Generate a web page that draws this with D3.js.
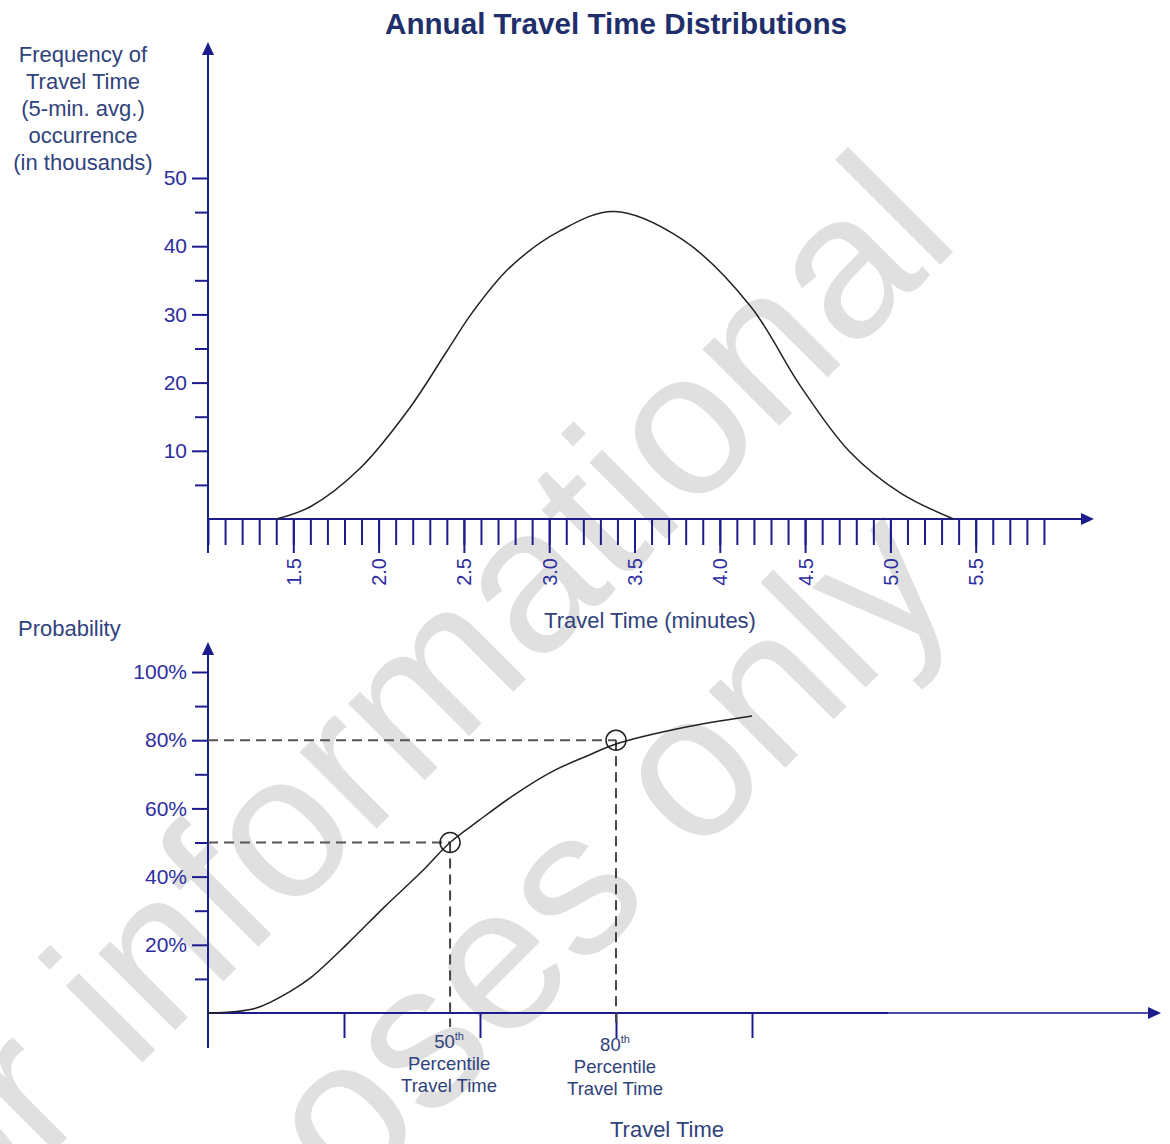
<!DOCTYPE html>
<html>
<head>
<meta charset="utf-8">
<script src="https://cdn.jsdelivr.net/npm/d3@7"></script>
<style>
  body { margin: 0; background: #fff; }
  svg { display: block; }
  text { font-family: "Liberation Sans", Arial, sans-serif; }
</style>
</head>
<body>
<div id="chart"></div>
<script>
// Setting up constants
const FRAME_WIDTH = 1170;
const FRAME_HEIGHT = 1144;

const AXIS_COLOR = "#1c1c8c";
const TICK_TEXT = "#2d2d9f";
const LABEL_COLOR = "#30427c";

// chart texts
const TITLE = "Annual Travel Time Distributions";
const FREQ_LABEL = ["Frequency of", "Travel Time", "(5-min. avg.)", "occurrence", "(in thousands)"];
const TIME_LABEL = "Travel Time (minutes)";
const PROB_LABEL = "Probability";
const TRAVEL_LABEL = "Travel Time";
const WATERMARK = ["For informational", "purposes only"];

// top chart: distribution of travel times
const freqTimes  = [1.40, 1.60, 1.89, 2.18, 2.40, 2.55, 2.77, 3.06, 3.38, 3.78, 4.18, 4.47, 4.76, 5.06, 5.37];
const freqValues = [0.0,  1.8,  7.4,  16.2, 24.6, 30.3, 36.9, 42.2, 45.1, 41.0, 31.2, 19.6, 9.9,  3.8,  0.0];
const freqMajorTicks = [10, 20, 30, 40, 50];
const freqMinorTicks = [5, 15, 25, 35, 45];
const timeMajorTicks = [1.5, 2.0, 2.5, 3.0, 3.5, 4.0, 4.5, 5.0, 5.5];
const timeMinorTicks = [1.0, 1.1, 1.2, 1.3, 1.4, 1.5, 1.6, 1.7, 1.8, 1.9,
                        2.0, 2.1, 2.2, 2.3, 2.4, 2.5, 2.6, 2.7, 2.8, 2.9,
                        3.0, 3.1, 3.2, 3.3, 3.4, 3.5, 3.6, 3.7, 3.8, 3.9,
                        4.0, 4.1, 4.2, 4.3, 4.4, 4.5, 4.6, 4.7, 4.8, 4.9,
                        5.0, 5.1, 5.2, 5.3, 5.4, 5.5, 5.6, 5.7, 5.8, 5.9];

// bottom chart: cumulative probability
const cdfTimes = [0, 0.35, 0.62, 0.76, 1.03, 1.30, 1.57, 1.78, 1.99, 2.26, 2.53, 2.80, 3.00, 3.48, 4.00];
const cdfProbs = [0, 1.4,  6.7,  10.5, 20.5, 31.2, 41.4, 50.0, 56.4, 64.2, 70.8, 75.6, 78.9, 83.6, 87.1];
const probMajorTicks = [20, 40, 60, 80, 100];
const probMinorTicks = [10, 30, 50, 70, 90];
const travelTicks = [1, 2, 3, 4];
const pctNames = ["50", "80"];
const pctTimes = [1.78, 3.00];
const pctProbs = [50, 80];

const FRAME = d3.select("#chart")
                .append("svg")
                  .attr("width", FRAME_WIDTH)
                  .attr("height", FRAME_HEIGHT);

// watermark underneath everything
const WM = FRAME.append("g")
                .attr("fill", "#e0e0e0")
                .attr("font-size", 205);
WM.append("text")
    .attr("transform", "translate(-125,1330) rotate(-45)")
    .text(WATERMARK[0]);
WM.append("text")
    .attr("transform", "translate(58,1495) rotate(-45)")
    .text(WATERMARK[1]);

// title
FRAME.append("text")
      .attr("x", 616)
      .attr("y", 34)
      .attr("text-anchor", "middle")
      .attr("font-family", "Lato, 'Open Sans', sans-serif")
      .attr("font-weight", 700)
      .attr("font-size", 29)
      .attr("fill", "#1f2f6b")
      .attr("textLength", 462)
      .attr("lengthAdjust", "spacingAndGlyphs")
      .text(TITLE);

// draw a small filled arrow head
function arrowHead(x, y, dir) {
  let p;
  if (dir === "up") p = [[x, y], [x - 6, y + 13], [x + 6, y + 13]];
  else p = [[x, y], [x - 13, y - 6], [x - 13, y + 6]];
  FRAME.append("path")
        .attr("d", "M" + p.join("L") + "Z")
        .attr("fill", AXIS_COLOR);
}

// axis look: no domain, navy ticks, bigger text
function styleAxis(g, size) {
  g.select(".domain").remove();
  g.selectAll(".tick line").attr("stroke", AXIS_COLOR).attr("stroke-width", 2);
  g.selectAll(".tick text")
    .attr("fill", TICK_TEXT)
    .attr("font-size", size || 20)
    .attr("font-family", "'Liberation Sans', Arial, sans-serif");
}

// ---------------- top chart ----------------
const X_TOP = d3.scaleLinear().domain([1.0, 6.0]).range([208, 1061]);
const Y_TOP = d3.scaleLinear().domain([0, 50]).range([519, 178]);

FRAME.append("g")
      .attr("transform", "translate(0,519)")
      .call(d3.axisBottom(X_TOP).tickValues(timeMinorTicks).tickSize(26).tickFormat(""))
      .call(styleAxis);

FRAME.append("g")
      .attr("transform", "translate(0,519)")
      .call(d3.axisBottom(X_TOP).tickValues(timeMajorTicks).tickSize(34).tickFormat(d3.format(".1f")))
      .call(styleAxis, 20)
      .call(g => g.selectAll(".tick text")
                  .attr("transform", "rotate(-90)")
                  .attr("text-anchor", "end")
                  .attr("x", -39)
                  .attr("y", 0)
                  .attr("dy", "0.35em"));

FRAME.append("g")
      .attr("transform", "translate(208,0)")
      .call(d3.axisLeft(Y_TOP).tickValues(freqMinorTicks).tickSize(13).tickFormat(""))
      .call(styleAxis);

FRAME.append("g")
      .attr("transform", "translate(208,0)")
      .call(d3.axisLeft(Y_TOP).tickValues(freqMajorTicks).tickSize(16).tickPadding(5))
      .call(styleAxis, 21);

// axis lines
FRAME.append("line")
      .attr("x1", 208).attr("x2", 208).attr("y1", 553).attr("y2", 52)
      .attr("stroke", AXIS_COLOR).attr("stroke-width", 2);
arrowHead(208, 42, "up");
FRAME.append("line")
      .attr("x1", 208).attr("x2", 1083).attr("y1", 519).attr("y2", 519)
      .attr("stroke", AXIS_COLOR).attr("stroke-width", 2);
arrowHead(1094, 519, "right");

// distribution curve
const freqLine = d3.line()
                    .x((d, i) => X_TOP(freqTimes[i]))
                    .y(d => Y_TOP(d))
                    .curve(d3.curveCatmullRom.alpha(0.5));
FRAME.append("path")
      .attr("d", freqLine(freqValues))
      .attr("fill", "none")
      .attr("stroke", "#222")
      .attr("stroke-width", 1.5);

// labels
FRAME.append("text")
      .attr("text-anchor", "middle")
      .attr("font-size", 22)
      .attr("fill", LABEL_COLOR)
      .selectAll("tspan")
      .data(FREQ_LABEL)
      .enter().append("tspan")
        .attr("x", 83)
        .attr("y", (d, i) => 62 + i * 27)
        .text(d => d);

FRAME.append("text")
      .attr("x", 650).attr("y", 628)
      .attr("text-anchor", "middle")
      .attr("font-size", 22)
      .attr("fill", LABEL_COLOR)
      .text(TIME_LABEL);

// ---------------- bottom chart ----------------
const X_BOT = d3.scaleLinear().domain([0, 7]).range([208, 1160]);
const Y_BOT = d3.scaleLinear().domain([0, 100]).range([1013, 672]);

FRAME.append("g")
      .attr("transform", "translate(0,1013)")
      .call(d3.axisBottom(X_BOT).tickValues(travelTicks).tickSize(25).tickFormat(""))
      .call(styleAxis);

FRAME.append("g")
      .attr("transform", "translate(208,0)")
      .call(d3.axisLeft(Y_BOT).tickValues(probMinorTicks).tickSize(13).tickFormat(""))
      .call(styleAxis);

FRAME.append("g")
      .attr("transform", "translate(208,0)")
      .call(d3.axisLeft(Y_BOT).tickValues(probMajorTicks).tickSize(16).tickPadding(5).tickFormat(d => d + "%"))
      .call(styleAxis, 21);

FRAME.append("line")
      .attr("x1", 208).attr("x2", 208).attr("y1", 1048).attr("y2", 652)
      .attr("stroke", AXIS_COLOR).attr("stroke-width", 2);
arrowHead(208, 642, "up");
FRAME.append("line")
      .attr("x1", 208).attr("x2", 1150).attr("y1", 1013).attr("y2", 1013)
      .attr("stroke", "#4a4aa8").attr("stroke-width", 2);
FRAME.append("line")
      .attr("x1", 208).attr("x2", X_BOT(5)).attr("y1", 1013).attr("y2", 1013)
      .attr("stroke", AXIS_COLOR).attr("stroke-width", 2.2);
arrowHead(1161, 1013, "right");

// dashed guides to the percentile points
pctTimes.forEach((t, i) => {
  FRAME.append("line")
        .attr("x1", X_BOT(0)).attr("x2", X_BOT(t))
        .attr("y1", Y_BOT(pctProbs[i])).attr("y2", Y_BOT(pctProbs[i]))
        .attr("stroke", "#555").attr("stroke-width", 2)
        .attr("stroke-dasharray", "10,6");
  FRAME.append("line")
        .attr("x1", X_BOT(t)).attr("x2", X_BOT(t))
        .attr("y1", Y_BOT(pctProbs[i])).attr("y2", Y_BOT(0) + 14)
        .attr("stroke", "#444").attr("stroke-width", 2)
        .attr("stroke-dasharray", "10,6");
});

// cumulative curve
const cdfLine = d3.line()
                   .x((d, i) => X_BOT(cdfTimes[i]))
                   .y(d => Y_BOT(d))
                   .curve(d3.curveCatmullRom.alpha(0.5));
FRAME.append("path")
      .attr("d", cdfLine(cdfProbs))
      .attr("fill", "none")
      .attr("stroke", "#222")
      .attr("stroke-width", 1.5);

// percentile markers
FRAME.selectAll(".pct")
      .data(pctTimes)
      .enter().append("circle")
        .attr("class", "pct")
        .attr("cx", d => X_BOT(d))
        .attr("cy", (d, i) => Y_BOT(pctProbs[i]))
        .attr("r", 10)
        .attr("fill", "none")
        .attr("stroke", "#222")
        .attr("stroke-width", 1.5);

// percentile labels
pctTimes.forEach((t, i) => {
  const g = FRAME.append("text")
                  .attr("text-anchor", "middle")
                  .attr("font-size", 18.5)
                  .attr("fill", LABEL_COLOR);
  const x = X_BOT(t) - 1;
  const base = Y_BOT(0) + 35 + i * 3;
  const first = g.append("tspan").attr("x", x).attr("y", base);
  first.append("tspan").text(pctNames[i]);
  first.append("tspan").attr("font-size", 11).attr("dy", -8).text("th");
  g.append("tspan").attr("x", x).attr("y", base + 22).text("Percentile");
  g.append("tspan").attr("x", x).attr("y", base + 44).text("Travel Time");
});

FRAME.append("text")
      .attr("x", 18).attr("y", 636)
      .attr("font-size", 22)
      .attr("fill", LABEL_COLOR)
      .text(PROB_LABEL);

FRAME.append("text")
      .attr("x", 667).attr("y", 1137)
      .attr("text-anchor", "middle")
      .attr("font-size", 22)
      .attr("fill", LABEL_COLOR)
      .text(TRAVEL_LABEL);
</script>
</body>
</html>
